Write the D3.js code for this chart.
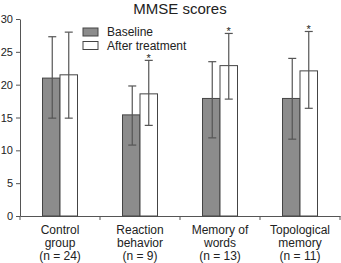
<!DOCTYPE html>
<html><head><meta charset="utf-8">
<script src="https://cdn.jsdelivr.net/npm/d3@7"></script>
<style>body{margin:0;background:#fff}svg{display:block;font-family:Arial,"Liberation Sans",sans-serif}</style>
</head><body><div id="chart"></div>
<script>
const categories = [["Control","group","(n = 24)"],["Reaction","behavior","(n = 9)"],["Memory of","words","(n = 13)"],["Topological","memory","(n = 11)"]];
const baseline = [21.0, 15.4, 17.9, 17.9];
const baselineLow = [14.9, 10.8, 11.9, 11.7];
const baselineHigh = [27.3, 19.8, 23.5, 24.0];
const after = [21.5, 18.6, 22.9, 22.1];
const afterLow = [14.9, 13.8, 17.8, 16.4];
const afterHigh = [28.0, 23.7, 27.8, 28.1];
const significant = [false, true, true, true];
const yTicks = [0,5,10,15,20,25,30];

const W=341,H=263;
const svg=d3.select("#chart").append("svg").attr("width",W).attr("height",H);
const x=d3.scaleBand().domain(d3.range(4)).range([20,340]);
const y=d3.scaleLinear().domain([0,30]).range([216,19]);
const bw=17.5;

svg.append("text").attr("x",180).attr("y",14).attr("text-anchor","middle").attr("font-size",15).attr("fill","#222").text("MMSE scores");

// axes
const ya=svg.append("g").attr("transform","translate(20,0)").call(d3.axisLeft(y).tickValues(yTicks).tickSize(4).tickSizeOuter(0));
ya.select(".domain").attr("stroke","#555");
ya.selectAll(".tick line").attr("stroke","#555");
ya.selectAll(".tick text").attr("font-size",11).attr("fill","#222").attr("font-family","Arial,'Liberation Sans',sans-serif");

const xa=svg.append("g").attr("transform","translate(0,216)").call(d3.axisBottom(x).tickValues([]).tickSizeOuter(0));
xa.select(".domain").attr("stroke","#555");
svg.append("g").selectAll("line").data(d3.range(5)).join("line")
  .attr("x1",i=>20+i*x.bandwidth()).attr("x2",i=>20+i*x.bandwidth())
  .attr("y1",216).attr("y2",220).attr("stroke","#555");

const cx=i=>x(i)+x.bandwidth()/2;
// bars
svg.append("g").selectAll("rect").data(baseline).join("rect")
  .attr("x",(d,i)=>cx(i)-bw).attr("y",d=>y(d)).attr("width",bw).attr("height",d=>y(0)-y(d))
  .attr("fill","#8c8c8c").attr("stroke","#444").attr("stroke-width",1);
svg.append("g").selectAll("rect").data(after).join("rect")
  .attr("x",(d,i)=>cx(i)).attr("y",d=>y(d)).attr("width",bw).attr("height",d=>y(0)-y(d))
  .attr("fill","#fff").attr("stroke","#444").attr("stroke-width",1);

function errs(lo,hi,off){
  const g=svg.append("g").attr("stroke","#555").attr("stroke-width",1.2);
  lo.forEach((l,i)=>{
    const xx=cx(i)+off;
    g.append("line").attr("x1",xx).attr("x2",xx).attr("y1",y(l)).attr("y2",y(hi[i]));
    g.append("line").attr("x1",xx-4).attr("x2",xx+4).attr("y1",y(l)).attr("y2",y(l));
    g.append("line").attr("x1",xx-4).attr("x2",xx+4).attr("y1",y(hi[i])).attr("y2",y(hi[i]));
  });
}
errs(baselineLow,baselineHigh,-bw/2+1);
errs(afterLow,afterHigh,bw/2);

const stars=afterHigh.map((d,i)=>({d,i})).filter(o=>significant[o.i]);
svg.append("g").selectAll("text").data(stars).join("text")
  .attr("x",o=>cx(o.i)+bw/2).attr("y",o=>y(o.d)+1.5).attr("text-anchor","middle").attr("font-size",11).attr("fill","#222").text("*");

// category labels
categories.forEach((lines,i)=>{
  lines.forEach((t,j)=>{
    svg.append("text").attr("x",cx(i)).attr("y",234+j*13).attr("text-anchor","middle").attr("font-size",12).attr("fill","#222").text(t);
  });
});

// legend
const leg=[["Baseline","#8c8c8c"],["After treatment","#fff"]];
leg.forEach((l,i)=>{
  svg.append("rect").attr("x",83).attr("y",28+i*13.5).attr("width",15).attr("height",8).attr("fill",l[1]).attr("stroke","#444");
  svg.append("text").attr("x",107).attr("y",36+i*13.5).attr("font-size",12).attr("fill","#222").text(l[0]);
});
</script></body></html>
